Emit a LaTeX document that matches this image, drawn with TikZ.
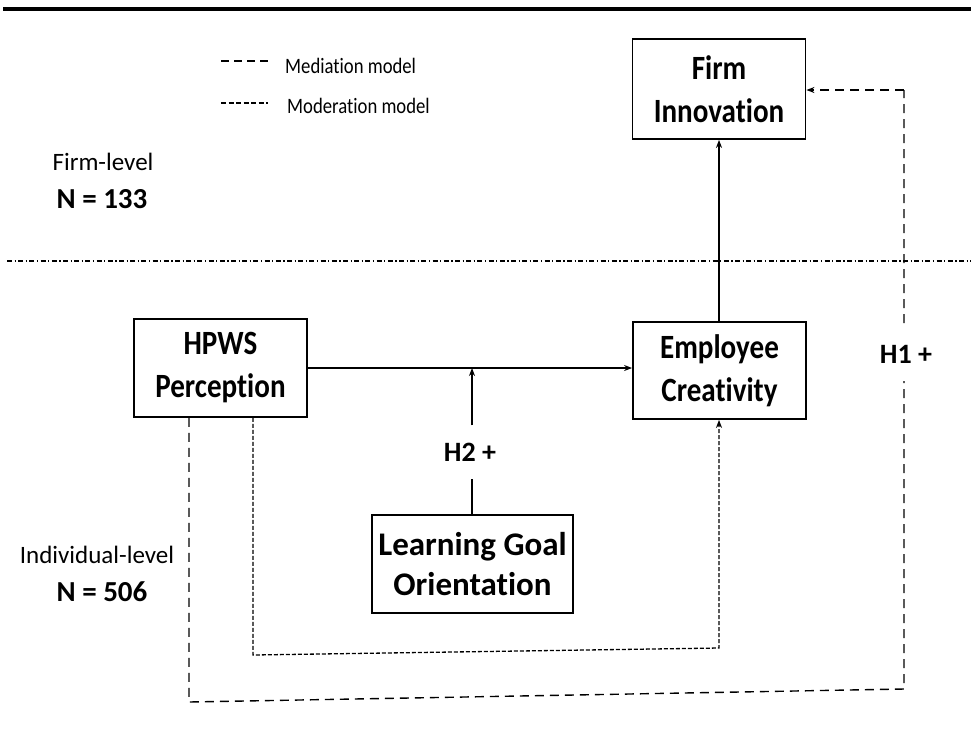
\documentclass[tikz,border=0pt]{standalone}
\usepackage{fontspec}
\defaultfontfeatures{Ligatures=NoCommon}
\setmainfont{Carlito}
\newfontfamily\boxfont{Carlito}[FakeStretch=0.855]
\newfontfamily\legfont{Carlito}[FakeStretch=0.85]
\usetikzlibrary{arrows.meta}
\tikzset{
  box/.style={draw, line width=1.8pt, align=center, inner sep=0pt,
    font=\boxfont\bfseries\fontsize{34}{43}\selectfont},
  widebox/.style={box, font=\bfseries\fontsize{33}{40}\selectfont},
  hlabel/.style={font=\bfseries\fontsize{28}{32}\selectfont, inner sep=0pt},
  legtext/.style={font=\legfont\fontsize{22}{26}\selectfont, inner sep=0pt},
  plain/.style={font=\fontsize{25}{30}\selectfont, inner sep=0pt},
  plainbold/.style={font=\bfseries\fontsize{29}{32}\selectfont, inner sep=0pt},
  solidarrow/.style={line width=1.4pt, -{Stealth[length=8pt,width=6pt]}},
  medline/.style={line width=1.4pt, dash pattern=on 9pt off 6pt},
  modline/.style={line width=1.3pt, dash pattern=on 4pt off 2pt},
  tipend/.style={-{Stealth[length=8pt,width=6pt]}},
}
\begin{document}
\begin{tikzpicture}[x=1pt,y=-1pt]
\useasboundingbox (0,0) rectangle (971,737);
% top rule and level divider
\coordinate (tl) at (3,9);
\coordinate (tr) at (971,9);
\draw[line width=3.5pt] (tl) -- (tr);
\coordinate (dl) at (7,261);
\coordinate (dr) at (971,261);
\draw[line width=1.3pt, dash pattern=on 5pt off 2.5pt on 1.2pt off 2.5pt] (dl) -- (dr);
% boxes
\node[box, minimum width=173pt, minimum height=100pt] (fi) at (719,89) {Firm\\Innovation};
\node[box, minimum width=173pt, minimum height=98pt] (hpws) at (220.5,368) {HPWS\\Perception};
\node[box, minimum width=173pt, minimum height=97pt] (ec) at (719.5,370.5) {Employee\\Creativity};
\node[widebox, minimum width=201pt, minimum height=98pt] (lgo) at (472.5,564) {Learning Goal\\Orientation};
% main paths
\draw[solidarrow] (hpws.east |- 0,368) -- (ec.west |- 0,368);
\coordinate (jn) at (472,368);
\node[hlabel, minimum height=53pt] (h2) at (470,452) {H2 +};
\draw[line width=1.4pt] (lgo.north -| jn) -- (h2.south -| jn);
\draw[solidarrow] (h2.north -| jn) -- (jn);
\draw[solidarrow] (ec.north -| 719,0) -- (fi.south -| 719,0);
% mediation path (H1)
\coordinate (m1) at (189,702);
\coordinate (m2) at (904,689);
\coordinate (m3) at (904,90);
\draw[medline] (hpws.south -| m1) -- (m1) -- (m2) -- (m3);
\draw[medline, tipend] (m3) -- (fi.east |- m3);
\node[hlabel, fill=white, minimum height=53pt] (h1) at (906,354) {H1 +};
% moderation path
\coordinate (d1) at (253,655);
\coordinate (d2) at (719,648);
\draw[modline, tipend] (hpws.south -| d1) -- (d1) -- (d2) -- (ec.south -| d2);
% legend
\coordinate (l1a) at (221,61);
\coordinate (l1b) at (268,61);
\draw[line width=1.3pt, dash pattern=on 8pt off 5pt] (l1a) -- (l1b);
\node[legtext, anchor=west] (lt1) at (285,66) {Mediation model};
\coordinate (l2a) at (221,103);
\coordinate (l2b) at (268,103);
\draw[line width=1.3pt, dash pattern=on 5pt off 2.5pt] (l2a) -- (l2b);
\node[legtext, anchor=west] (lt2) at (287,106) {Moderation model};
% level labels
\node[plain] (fl) at (103,162) {Firm-level};
\node[plainbold] (fn) at (102,199) {N = 133};
\node[plain] (il) at (97,555) {Individual-level};
\node[plainbold] (in) at (102,592) {N = 506};
\end{tikzpicture}
\end{document}
